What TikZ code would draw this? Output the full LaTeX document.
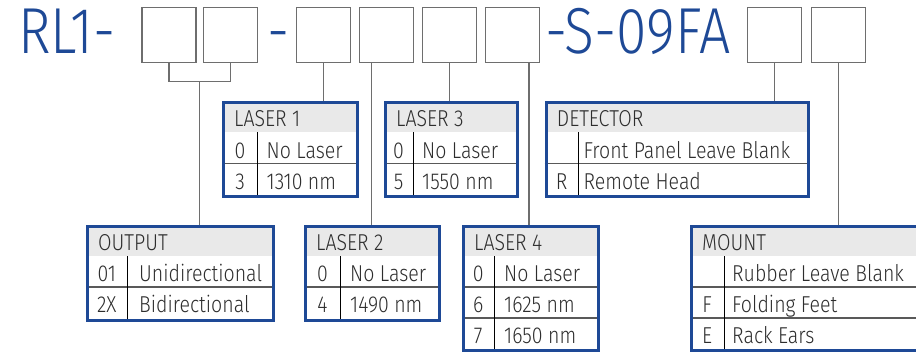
\documentclass[tikz,border=0pt]{standalone}
\usepackage{fontspec}
\setmainfont{Fira Sans Light}[FakeStretch=0.85]
\usepackage{tikz}
\usetikzlibrary{positioning}

\definecolor{codeblue}{RGB}{30,73,150}
\definecolor{headgray}{RGB}{233,233,233}
\definecolor{linegray}{RGB}{110,110,110}
\definecolor{textgray}{RGB}{45,45,45}

\tikzset{
  codebox/.style={draw=linegray, line width=1.2pt, minimum width=54pt, minimum height=55pt, inner sep=0pt},
  title/.style={text=codeblue, font=\fontsize{65}{65}\selectfont, inner sep=0pt, anchor=base west},
  connector/.style={draw=linegray, line width=1.3pt},
  tableframe/.style={draw=codeblue, line width=3pt, inner sep=0pt, anchor=north west},
  headfill/.style={fill=headgray},
  rowline/.style={draw=black!65, line width=1.5pt},
  colline/.style={draw=black, line width=1pt},
  cell/.style={text=textgray, font=\fontsize{23}{23}\selectfont, inner sep=0pt, anchor=base west},
  codecell/.style={cell, anchor=base},
}

\begin{document}
\begin{tikzpicture}[x=1pt, y=-1pt]
    \useasboundingbox (0,0) rectangle (916,351);

    % 1. Part number with the empty code boxes
    \node[title] (rl) at (18,53.3) {RL1-};
    \node[codebox] (c1) at (169,34.7) {};
    \node[codebox] (c2) at (230.5,34.7) {};
    \node[title, anchor=base] (dash) at (279,53.3) {-};
    \node[codebox] (c3) at (323.8,34.7) {};
    \node[codebox] (c4) at (386.8,34.7) {};
    \node[codebox] (c5) at (449.8,34.7) {};
    \node[codebox] (c6) at (512.8,34.7) {};
    \node[title] (model) at (545,53.3) {-S-09FA};
    \node[codebox] (c7) at (774.7,34.7) {};
    \node[codebox] (c8) at (838.3,34.7) {};

    % 2. Upper tables: LASER 1, LASER 3, DETECTOR
    % LASER 1
    \fill[headfill] (222.3,100.5) rectangle (356.3,132);
    \draw[rowline] (222.3,163.5) -- (356.3,163.5);
    \draw[colline] (257.7,132) -- (257.7,195);
    \node[tableframe, minimum width=134pt, minimum height=94.5pt] (laser1) at (222.3,100.5) {};
    \node[cell] at (234,126.5) {LASER 1};
    \node[codecell] at (240,158) {0};
    \node[cell] at (266.5,158) {No Laser};
    \node[codecell] at (240,189) {3};
    \node[cell] at (266.5,189) {1310 nm};
    % LASER 3
    \fill[headfill] (384,100.5) rectangle (515.7,132);
    \draw[rowline] (384,163.5) -- (515.7,163.5);
    \draw[colline] (413.3,132) -- (413.3,195);
    \node[tableframe, minimum width=131.7pt, minimum height=94.5pt] (laser3) at (384,100.5) {};
    \node[cell] at (396,126.5) {LASER 3};
    \node[codecell] at (398.6,158) {0};
    \node[cell] at (422,158) {No Laser};
    \node[codecell] at (398.6,189) {5};
    \node[cell] at (422,189) {1550 nm};
    % DETECTOR
    \fill[headfill] (544.7,100.5) rectangle (807.3,132);
    \draw[rowline] (544.7,163.5) -- (807.3,163.5);
    \draw[colline] (578.7,132) -- (578.7,195);
    \node[tableframe, minimum width=262.6pt, minimum height=94.5pt] (detector) at (544.7,100.5) {};
    \node[cell] at (556.7,126.5) {DETECTOR};
    \node[cell] at (583.5,158) {Front Panel Leave Blank};
    \node[codecell] at (561.7,189) {R};
    \node[cell] at (583.5,189) {Remote Head};

    % 3. Lower tables: OUTPUT, LASER 2, LASER 4, MOUNT
    % OUTPUT
    \fill[headfill] (86,225) rectangle (272.3,256);
    \draw[rowline] (86,287) -- (272.3,287);
    \draw[colline] (127.7,256) -- (127.7,318.5);
    \node[tableframe, minimum width=186.3pt, minimum height=93.5pt] (output) at (86,225) {};
    \node[cell] at (98,250) {OUTPUT};
    \node[codecell] at (106.8,281.5) {01};
    \node[cell] at (139,281.5) {Unidirectional};
    \node[codecell] at (106.8,312.5) {2X};
    \node[cell] at (139,312.5) {Bidirectional};
    % LASER 2
    \fill[headfill] (304.3,225) rectangle (438.3,256);
    \draw[rowline] (304.3,287) -- (438.3,287);
    \draw[colline] (340.7,256) -- (340.7,318.5);
    \node[tableframe, minimum width=134pt, minimum height=93.5pt] (laser2) at (304.3,225) {};
    \node[cell] at (316,250) {LASER 2};
    \node[codecell] at (322.5,281.5) {0};
    \node[cell] at (350,281.5) {No Laser};
    \node[codecell] at (322.5,312.5) {4};
    \node[cell] at (350,312.5) {1490 nm};
    % LASER 4
    \fill[headfill] (462,225) rectangle (596.7,256);
    \draw[rowline] (462,287) -- (596.7,287);
    \draw[rowline] (462,318) -- (596.7,318);
    \draw[colline] (494.3,256) -- (494.3,349);
    \node[tableframe, minimum width=134.7pt, minimum height=124pt] (laser4) at (462,225) {};
    \node[cell] at (474,250) {LASER 4};
    \node[codecell] at (478.2,281.5) {0};
    \node[cell] at (504,281.5) {No Laser};
    \node[codecell] at (478.2,312.5) {6};
    \node[cell] at (504,312.5) {1625 nm};
    \node[codecell] at (478.2,343.5) {7};
    \node[cell] at (504,343.5) {1650 nm};
    % MOUNT (runs past the right edge)
    \fill[headfill] (690,225) rectangle (940,256);
    \draw[rowline] (690,287) -- (940,287);
    \draw[rowline] (690,318) -- (940,318);
    \draw[colline] (724.3,256) -- (724.3,349);
    \node[tableframe, minimum width=250pt, minimum height=124pt] (mount) at (690,225) {};
    \node[cell] at (702,250) {MOUNT};
    \node[cell] at (732,281.5) {Rubber Leave Blank};
    \node[codecell] at (707,312.5) {F};
    \node[cell] at (732,312.5) {Folding Feet};
    \node[codecell] at (707,343.5) {E};
    \node[cell] at (732,343.5) {Rack Ears};

    % 4. Connectors from the code boxes to their tables
    \coordinate (split) at (199.7,81.7);
    \draw[connector] (c1.south) |- (split) -| (c2.south);
    \draw[connector] (split) -- (split |- output.north);
    \draw[connector] (c3.south) -- (c3.south |- laser1.north);
    \draw[connector] ([xshift=-15.5pt]c4.south) -- ([xshift=-15.5pt]c4.south |- laser2.north);
    \draw[connector] (c5.south) -- (c5.south |- laser3.north);
    \draw[connector] ([xshift=16.2pt]c6.south) -- ([xshift=16.2pt]c6.south |- laser4.north);
    \draw[connector] (c7.south) -- (c7.south |- detector.north);
    \draw[connector] (c8.south) -- (c8.south |- mount.north);

\end{tikzpicture}
\end{document}
